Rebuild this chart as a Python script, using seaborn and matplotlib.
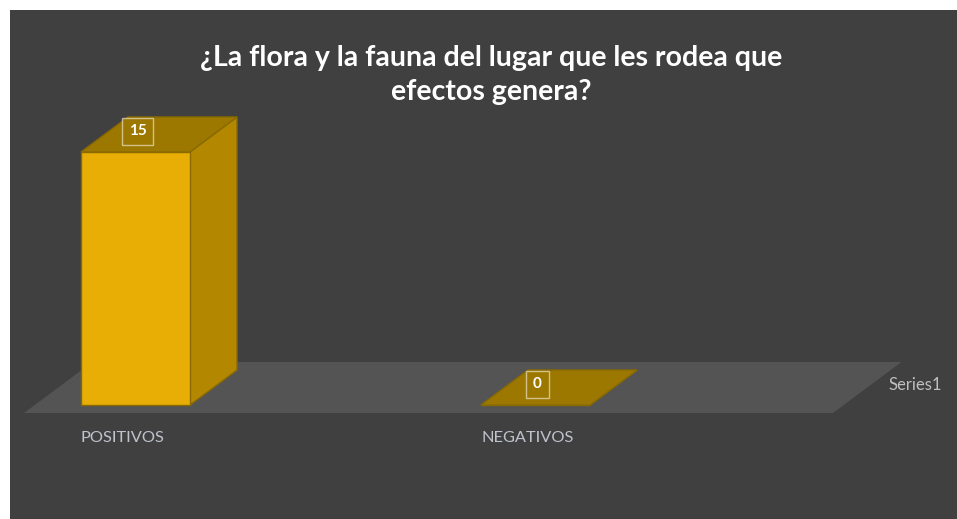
import matplotlib
matplotlib.use("Agg")
import matplotlib.pyplot as plt
from matplotlib.patches import Polygon
import seaborn as sns

# data
categories = ["POSITIVOS", "NEGATIVOS"]
values = [15, 0]
series_name = "Series1"
title = "¿La flora y la fauna del lugar que les rodea que\nefectos genera?"

sns.set_theme(style="white")
plt.rcParams['font.family'] = ['Lato', 'DejaVu Sans']

BG = "#404040"
FLOOR = "#545454"
FRONT = "#E8AE06"
SIDE = "#B38800"
TOP = "#9C7800"
EDGE = "#8A6A00"

# pixel scale helpers (category spacing 400 px, 15 units ~ 253 px)
PX_X = 400.0
PX_Y = 253.0 / 15
DX = 47 / PX_X
DY = 35 / PX_Y

fig = plt.figure(figsize=(9.57, 5.19), dpi=100, facecolor="white")
ax = fig.add_axes([10 / 957, 0, 947 / 957, 509 / 519])
ax.set_facecolor(BG)

sns.barplot(x=categories, y=values, width=109 / PX_X, color=FRONT,
            edgecolor=EDGE, linewidth=1, saturation=1, ax=ax, zorder=3)

ax.set_xlim((10 - 135.5) / PX_X, (957 - 135.5) / PX_X)
ax.set_ylim((405 - 519) / PX_Y, (405 - 10) / PX_Y)

# floor
f0 = -8 / PX_Y
f1 = f0 + DY + 16 / PX_Y
fx0 = (24 - 135.5) / PX_X
fx1 = (833 - 135.5) / PX_X
fdx = (f1 - f0) / DY * DX
ax.add_patch(Polygon([(fx0, f0), (fx1, f0), (fx1 + fdx, f1), (fx0 + fdx, f1)],
                     closed=True, facecolor=FLOOR, edgecolor="none", zorder=1))

# 3d faces + labels
for p, v in zip(ax.patches[:len(values)], values):
    x0 = p.get_x()
    w = p.get_width()
    h = p.get_height()
    ax.add_patch(Polygon([(x0 + w, 0), (x0 + w + DX, DY), (x0 + w + DX, h + DY), (x0 + w, h)],
                         closed=True, facecolor=SIDE, edgecolor=EDGE, lw=1, zorder=2))
    ax.add_patch(Polygon([(x0, h), (x0 + w, h), (x0 + w + DX, h + DY), (x0 + DX, h + DY)],
                         closed=True, facecolor=TOP, edgecolor=EDGE, lw=1, zorder=4))
    ax.text(x0 + w / 2 + 2 / PX_X, h + DY / 2 + 3 / PX_Y, f"{v}", ha="center", va="center",
            color="white", fontsize=11, fontweight="bold", zorder=5,
            bbox=dict(boxstyle="square,pad=0.45", facecolor=TOP,
                      edgecolor=(1, 1, 1, 0.55), lw=1))

ax.set_xticks([])
ax.set_yticks([])
for s in ax.spines.values():
    s.set_visible(False)

for p, c in zip(ax.patches[:len(values)], categories):
    ax.text(p.get_x(), (405 - 438) / PX_Y, c, ha="left", va="center",
            color="#BFC3CC", fontsize=11.8)

ax.text((888 - 135.5) / PX_X, (405 - 385) / PX_Y, series_name, ha="left",
        va="center", color="#BFBFBF", fontsize=12)

fig.text(491 / 957, 1 - 75 / 519, title, ha="center", va="center",
         color="white", fontsize=20.5, fontweight="bold", linespacing=1.35)

fig.savefig("out.png", dpi=100, facecolor="white")
